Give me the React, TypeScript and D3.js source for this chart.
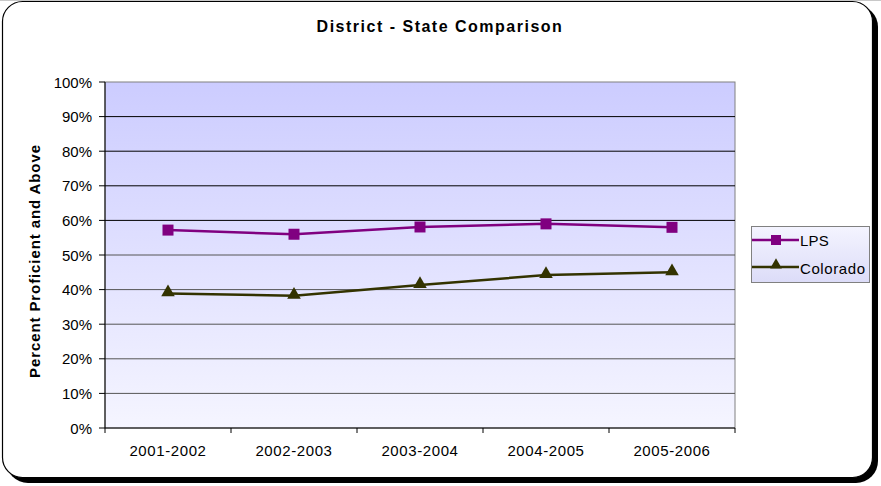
import React from "react";
import * as d3 from "d3";

const categories = ["2001-2002", "2002-2003", "2003-2004", "2004-2005", "2005-2006"];
const lpsValues = [57.2, 56.0, 58.1, 59.0, 58.0];
const coloradoValues = [38.9, 38.2, 41.3, 44.2, 45.0];
const yTicks = [0, 10, 20, 30, 40, 50, 60, 70, 80, 90, 100];

const W = 881;
const H = 486;
const plot = { left: 105, right: 735, top: 82, bottom: 428 };

export default function App() {
  const x = d3.scaleBand<string>().domain(categories).range([plot.left, plot.right]);
  const y = d3.scaleLinear().domain([0, 100]).range([plot.bottom, plot.top]);
  const cx = (c: string) => (x(c) as number) + x.bandwidth() / 2;
  const line = d3
    .line<number>()
    .x((_, i) => cx(categories[i]))
    .y((d) => y(d));
  const tri = d3.symbol().type(d3.symbolTriangle).size(80)() as string;
  const font = "Arial, 'Liberation Sans', sans-serif";

  return (
    <svg
      width={W}
      height={H}
      style={{ position: "absolute", left: 0, top: 0, fontFamily: font }}
    >
      <defs>
        <linearGradient id="plotGrad" x1="0" y1="0" x2="0" y2="1">
          <stop offset="0" stopColor="#CCCCFF" />
          <stop offset="1" stopColor="#F5F5FF" />
        </linearGradient>
        <linearGradient id="legGrad" x1="0" y1="0" x2="0" y2="1">
          <stop offset="0" stopColor="#F4F4FF" />
          <stop offset="1" stopColor="#DCDCF8" />
        </linearGradient>
      </defs>
      <rect x={0} y={0} width={W} height={H} fill="#ffffff" />
      <line x1={0} y1={0.5} x2={W} y2={0.5} stroke="#c8c8c8" />
      {/* shadow */}
      <rect x={6} y={5} width={872} height={478} rx={22} fill="#000" />
      {/* frame */}
      <rect x={2.5} y={1.5} width={870} height={476} rx={20} fill="#fff" stroke="#000" strokeWidth={1.2} />

      <text x={440} y={32} textAnchor="middle" fontSize={16} letterSpacing={1.5} fontWeight="bold" fill="#000">
        District - State Comparison
      </text>

      {/* plot area */}
      <rect
        x={plot.left}
        y={plot.top}
        width={plot.right - plot.left}
        height={plot.bottom - plot.top}
        fill="url(#plotGrad)"
        stroke="#808080"
      />
      {yTicks.map((t) => (
        <g key={t}>
          {t > 0 && t < 100 && (
            <line x1={plot.left} x2={plot.right} y1={y(t)} y2={y(t)} stroke={t >= 60 ? "#000" : "#555"} strokeWidth={1} />
          )}
          <line x1={plot.left - 6} x2={plot.left} y1={y(t)} y2={y(t)} stroke="#000" />
          <text x={plot.left - 13} y={y(t) + 5.5} textAnchor="end" fontSize={15} fill="#000">
            {t}%
          </text>
        </g>
      ))}
      <line x1={plot.left} x2={plot.left} y1={plot.top} y2={plot.bottom} stroke="#000" />
      <line x1={plot.left} x2={plot.right} y1={plot.bottom} y2={plot.bottom} stroke="#000" strokeWidth={1.2} />
      {categories.map((c) => (
        <g key={c}>
          <line x1={x(c) as number} x2={x(c) as number} y1={plot.bottom} y2={plot.bottom + 5} stroke="#000" />
          <text x={cx(c)} y={plot.bottom + 28} textAnchor="middle" fontSize={15} letterSpacing={0.6} fill="#000">
            {c}
          </text>
        </g>
      ))}
      <line x1={plot.right} x2={plot.right} y1={plot.bottom} y2={plot.bottom + 5} stroke="#000" />

      <text
        transform={`translate(40, ${(plot.top + plot.bottom) / 2 + 6}) rotate(-90)`}
        textAnchor="middle"
        fontSize={15}
        letterSpacing={0.9}
        fontWeight="bold"
        fill="#000"
      >
        Percent Proficient and Above
      </text>

      {/* series */}
      <path d={line(lpsValues) as string} fill="none" stroke="#800080" strokeWidth={2.5} />
      {lpsValues.map((v, i) => (
        <rect key={i} x={cx(categories[i]) - 5.5} y={y(v) - 5.5} width={11} height={11} fill="#800080" />
      ))}
      <path d={line(coloradoValues) as string} fill="none" stroke="#333300" strokeWidth={2.5} />
      {coloradoValues.map((v, i) => (
        <path key={i} d={tri} transform={`translate(${cx(categories[i])}, ${y(v) - 1})`} fill="#333300" />
      ))}

      {/* legend */}
      <rect x={751.5} y={226.5} width={118} height={56} fill="url(#legGrad)" stroke="#808080" />
      <line x1={752} x2={799} y1={240} y2={240} stroke="#800080" strokeWidth={2.5} />
      <rect x={771} y={235} width={10} height={10} fill="#800080" />
      <text x={800} y={245.5} fontSize={15} letterSpacing={0.2} fill="#000">LPS</text>
      <line x1={752} x2={799} y1={267} y2={267} stroke="#333300" strokeWidth={2.5} />
      <path d={d3.symbol().type(d3.symbolTriangle).size(60)() as string} transform="translate(776, 265)" fill="#333300" />
      <text x={800} y={273.5} fontSize={15} letterSpacing={0.6} fill="#000">Colorado</text>
    </svg>
  );
}
